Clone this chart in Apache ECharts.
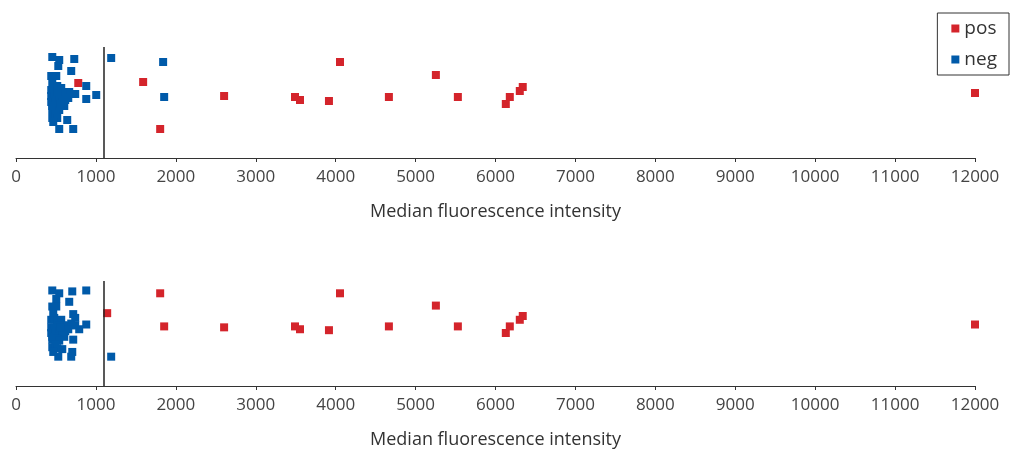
<!DOCTYPE html>
<html>
<head>
<meta charset="utf-8">
<script src="https://cdn.jsdelivr.net/npm/echarts@6/dist/echarts.min.js"></script>
<style>
  html, body { margin: 0; padding: 0; background: #fff; }
  #chart { width: 1011px; height: 450px; }
</style>
</head>
<body>
<div id="chart"></div>
<script>
// x = median fluorescence intensity, y = jitter only
var cutoff = 1100;
var xTicks = [0, 1000, 2000, 3000, 4000, 5000, 6000, 7000, 8000, 9000, 10000, 11000, 12000];

var posTop = [[779,75],[629,66],[1591,76],[1804,29],[2604,62],[3491,61],[3554,58],[3916,57],[4054,96],
  [4666,61],[5254,83],[5529,61],[6129,54],[6179,61],[6304,67],[6341,71],[12000,65]];
var negTop = [[454,101],[541,98],[729,99],[529,92],[691,87],[441,82],[504,82],[879,72],[1004,63],[879,59],
  [704,64],[454,75],[604,52],[454,48],[454,40],[641,38],[541,29],[716,29],[1191,100],[1841,96],[1854,61],
  [441,68],[466,70],[516,72],[566,70],[441,62],[479,62],[529,64],[591,62],[629,62],[666,66],[441,56],
  [491,56],[541,58],[579,56],[616,58],[454,52],[504,50],[541,48],[491,44],[516,40],[466,36],[579,66],
  [516,66],[654,60],[554,54],[741,64]];

var posBottom = [[1804,98],[1141,77],[1854,63],[2604,62],[3491,63],[3554,60],[3916,59],[4054,98],[4666,63],
  [5254,85],[5529,63],[6129,56],[6179,63],[6304,70],[6341,74],[12000,65]];
var negBottom = [[454,101],[541,98],[704,100],[879,101],[504,92],[666,89],[454,84],[504,84],[716,76],[741,72],
  [879,65],[791,60],[604,52],[716,49],[454,49],[454,41],[579,39],[704,36],[529,31],[691,31],[1191,31],
  [441,70],[479,72],[516,68],[566,70],[441,62],[479,62],[529,64],[591,64],[641,64],[691,66],[441,56],
  [491,56],[541,58],[579,56],[616,58],[454,52],[504,50],[541,48],[491,44],[516,40],[466,36],[554,62],
  [654,60],[741,64],[466,78]];

var RED = '#d4242b', BLUE = '#005aa9';
var font = '"Open Sans", "Noto Sans", sans-serif';

function xAxisFor(gridIndex) {
  return {
    type: 'value', gridIndex: gridIndex,
    min: xTicks[0], max: xTicks[xTicks.length - 1], interval: 1000,
    name: 'Median fluorescence intensity', nameLocation: 'middle', nameGap: 45,
    nameTextStyle: { color: '#333', fontSize: 18, fontFamily: font },
    axisLine: { show: true, lineStyle: { color: '#333', width: 1 } },
    axisTick: { show: true, length: 4, lineStyle: { color: '#333' } },
    axisLabel: { color: '#444', fontSize: 17, fontFamily: font, margin: 11,
      formatter: function (v) { return String(v); } },
    splitLine: { show: false }
  };
}
function yAxisFor(gridIndex) {
  return { type: 'value', gridIndex: gridIndex, min: 0, max: 111, show: false };
}
function cutLine() {
  return {
    silent: true, symbol: 'none', label: { show: false },
    lineStyle: { color: '#222', width: 1.5, type: 'solid' },
    data: [{ xAxis: cutoff }]
  };
}
function pts(name, data, color, g, withLine) {
  var s = {
    name: name, type: 'scatter', xAxisIndex: g, yAxisIndex: g,
    symbol: 'rect', symbolSize: 8, itemStyle: { color: color, opacity: 1 },
    data: data
  };
  if (withLine) s.markLine = cutLine();
  return s;
}

var chart = echarts.init(document.getElementById('chart'));
chart.setOption({
  animation: false,
  legend: {
    data: ['pos', 'neg'], orient: 'vertical', right: 2, top: 13,
    icon: 'rect', itemWidth: 8, itemHeight: 8, itemGap: 12,
    padding: [6, 12, 6, 14],
    borderColor: '#333', borderWidth: 1,
    textStyle: { color: '#333', fontSize: 19, fontFamily: font }
  },
  grid: [
    { left: 16, right: 36, top: 47, height: 111 },
    { left: 16, right: 36, top: 281, height: 111 }
  ],
  xAxis: [xAxisFor(0), xAxisFor(1)],
  yAxis: [yAxisFor(0), yAxisFor(1)],
  series: [
    pts('pos', posTop, RED, 0, true),
    pts('neg', negTop, BLUE, 0, false),
    pts('pos', posBottom, RED, 1, true),
    pts('neg', negBottom, BLUE, 1, false)
  ]
});
</script>
</body>
</html>
